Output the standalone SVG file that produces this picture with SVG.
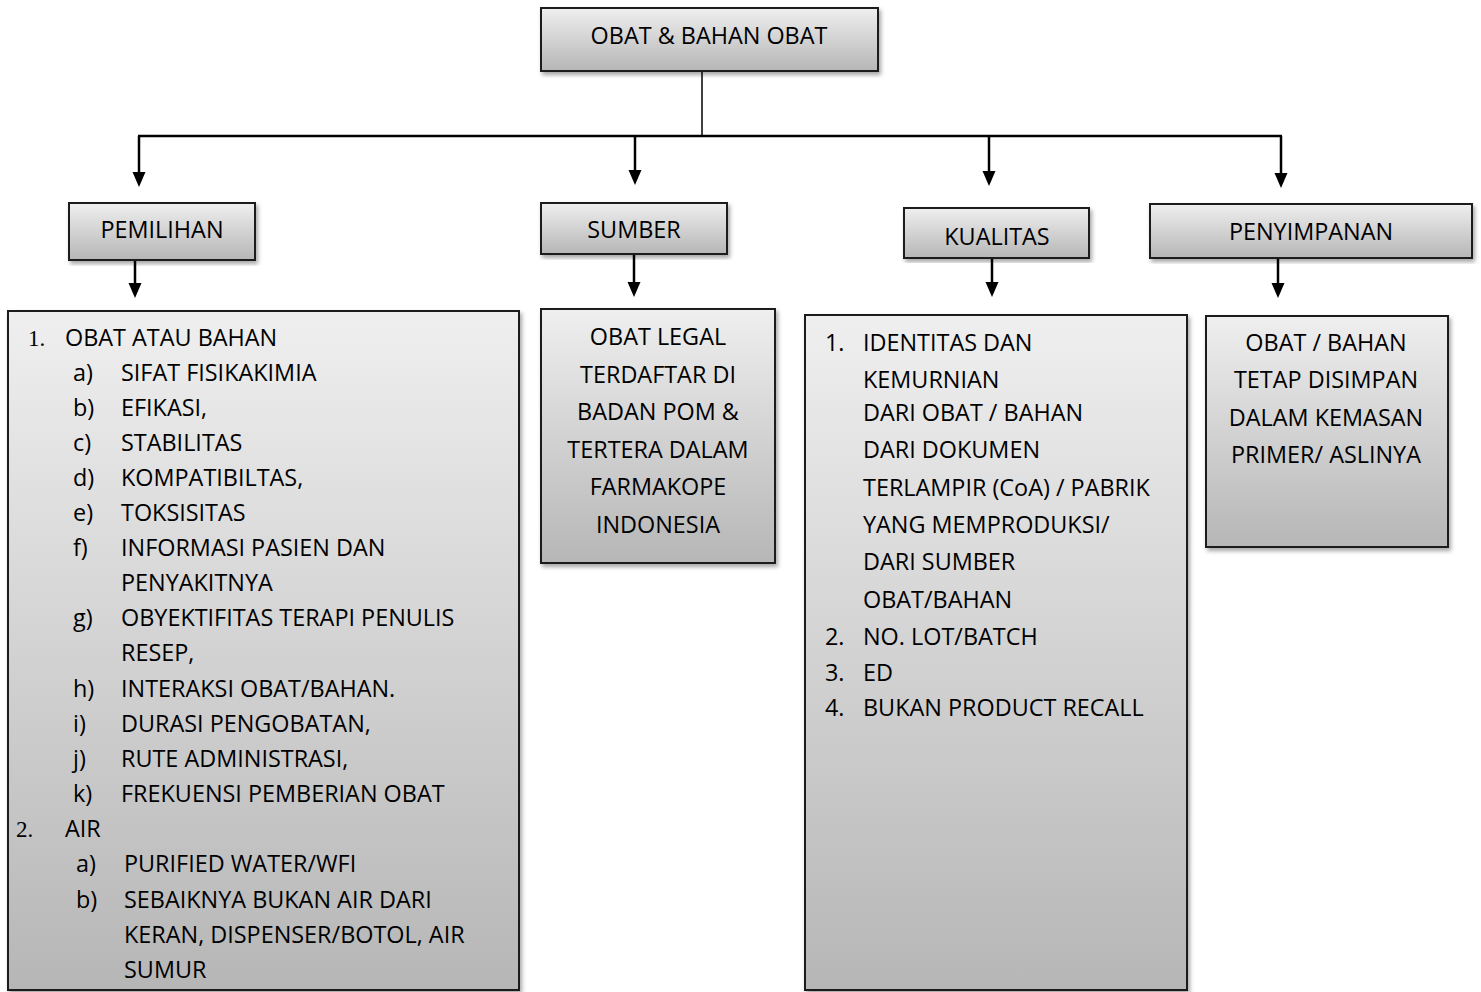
<svg xmlns="http://www.w3.org/2000/svg" width="1481" height="992" viewBox="0 0 1481 992">
<style>
.box{fill:url(#g);stroke:#1a1a1a;stroke-width:2;filter:url(#sh)}
text{font-family:"Open Sans","Liberation Sans",sans-serif;font-size:23.4px;fill:#000}
.c{text-anchor:middle}
.num{font-family:"Liberation Serif",serif;font-size:23px}
.ln{stroke:#000;stroke-width:2.5;fill:none}
.thin{stroke:#000;stroke-width:1.5;fill:none}
</style>
<defs>
<linearGradient id="g" x1="0" y1="0" x2="0" y2="1">
<stop offset="0" stop-color="#efefef"/>
<stop offset="1" stop-color="#b6b6b6"/>
</linearGradient>
<filter id="sh" x="-10%" y="-10%" width="120%" height="120%">
<feDropShadow dx="2" dy="3" stdDeviation="2" flood-color="#000" flood-opacity="0.35"/>
</filter>
<marker id="ah" markerUnits="userSpaceOnUse" markerWidth="15" markerHeight="15" refX="10" refY="7" orient="auto">
<path d="M0,0.5 L15,7 L0,13.5 z" fill="#000"/>
</marker>
</defs>
<rect width="1481" height="992" fill="#fff"/>

<g id="connectors">
<line class="thin" x1="702" y1="71" x2="702" y2="136"/>
<line class="ln" x1="138" y1="136" x2="1282" y2="136"/>
<line class="ln" x1="139" y1="136" x2="139" y2="182" marker-end="url(#ah)"/>
<line class="ln" x1="635" y1="136" x2="635" y2="180" marker-end="url(#ah)"/>
<line class="ln" x1="989" y1="136" x2="989" y2="181" marker-end="url(#ah)"/>
<line class="ln" x1="1281" y1="136" x2="1281" y2="183" marker-end="url(#ah)"/>
<line class="ln" x1="135" y1="260" x2="135" y2="293" marker-end="url(#ah)"/>
<line class="ln" x1="634" y1="254" x2="634" y2="292" marker-end="url(#ah)"/>
<line class="ln" x1="992" y1="258" x2="992" y2="292" marker-end="url(#ah)"/>
<line class="ln" x1="1278" y1="258" x2="1278" y2="293" marker-end="url(#ah)"/>
</g>

<g id="root">
<rect class="box" x="541" y="8" width="337" height="63"/>
<text class="c" x="709" y="44">OBAT &amp; BAHAN OBAT</text>
</g>

<g id="pemilihan">
<rect class="box" x="69" y="203" width="186" height="57"/>
<text class="c" x="162" y="238">PEMILIHAN</text>
</g>
<g id="sumber">
<rect class="box" x="541" y="203" width="186" height="51"/>
<text class="c" x="634" y="238">SUMBER</text>
</g>
<g id="kualitas">
<rect class="box" x="904" y="208" width="185" height="50"/>
<text class="c" x="997" y="245">KUALITAS</text>
</g>
<g id="penyimpanan">
<rect class="box" x="1150" y="204" width="322" height="54"/>
<text class="c" x="1311" y="240">PENYIMPANAN</text>
</g>

<g id="pemilihan-detail">
<rect class="box" x="8" y="311" width="511" height="679"/>
<text class="num" x="28" y="346">1.</text>
<text x="65" y="346">OBAT ATAU BAHAN</text>
<text x="73" y="381">a)</text><text x="121" y="381">SIFAT FISIKAKIMIA</text>
<text x="73" y="416">b)</text><text x="121" y="416">EFIKASI,</text>
<text x="73" y="451">c)</text><text x="121" y="451">STABILITAS</text>
<text x="73" y="486">d)</text><text x="121" y="486">KOMPATIBILTAS,</text>
<text x="73" y="521">e)</text><text x="121" y="521">TOKSISITAS</text>
<text x="73" y="556">f)</text><text x="121" y="556">INFORMASI PASIEN DAN</text>
<text x="121" y="591">PENYAKITNYA</text>
<text x="73" y="626">g)</text><text x="121" y="626">OBYEKTIFITAS TERAPI PENULIS</text>
<text x="121" y="661">RESEP,</text>
<text x="73" y="697">h)</text><text x="121" y="697">INTERAKSI OBAT/BAHAN.</text>
<text x="73" y="732">i)</text><text x="121" y="732">DURASI PENGOBATAN,</text>
<text x="73" y="767">j)</text><text x="121" y="767">RUTE ADMINISTRASI,</text>
<text x="73" y="802">k)</text><text x="121" y="802">FREKUENSI PEMBERIAN OBAT</text>
<text class="num" x="16" y="837">2.</text>
<text x="65" y="837">AIR</text>
<text x="76" y="872">a)</text><text x="124" y="872">PURIFIED WATER/WFI</text>
<text x="76" y="908">b)</text><text x="124" y="908">SEBAIKNYA BUKAN AIR DARI</text>
<text x="124" y="943">KERAN, DISPENSER/BOTOL, AIR</text>
<text x="124" y="978">SUMUR</text>
</g>

<g id="sumber-detail">
<rect class="box" x="541" y="309" width="234" height="254"/>
<text class="c" x="658" y="345">OBAT LEGAL</text>
<text class="c" x="658" y="383">TERDAFTAR DI</text>
<text class="c" x="658" y="420">BADAN POM &amp;</text>
<text class="c" x="658" y="458">TERTERA DALAM</text>
<text class="c" x="658" y="495">FARMAKOPE</text>
<text class="c" x="658" y="533">INDONESIA</text>
</g>

<g id="kualitas-detail">
<rect class="box" x="805" y="315" width="382" height="675"/>
<text x="825" y="351">1.</text><text x="863" y="351">IDENTITAS DAN</text>
<text x="863" y="388">KEMURNIAN</text>
<text x="863" y="421">DARI OBAT / BAHAN</text>
<text x="863" y="458">DARI DOKUMEN</text>
<text x="863" y="496">TERLAMPIR (CoA) / PABRIK</text>
<text x="863" y="533">YANG MEMPRODUKSI/</text>
<text x="863" y="570">DARI SUMBER</text>
<text x="863" y="608">OBAT/BAHAN</text>
<text x="825" y="645">2.</text><text x="863" y="645">NO. LOT/BATCH</text>
<text x="825" y="681">3.</text><text x="863" y="681">ED</text>
<text x="825" y="716">4.</text><text x="863" y="716">BUKAN PRODUCT RECALL</text>
</g>

<g id="penyimpanan-detail">
<rect class="box" x="1206" y="316" width="242" height="231"/>
<text class="c" x="1326" y="351">OBAT / BAHAN</text>
<text class="c" x="1326" y="388">TETAP DISIMPAN</text>
<text class="c" x="1326" y="426">DALAM KEMASAN</text>
<text class="c" x="1326" y="463">PRIMER/ ASLINYA</text>
</g>
</svg>
